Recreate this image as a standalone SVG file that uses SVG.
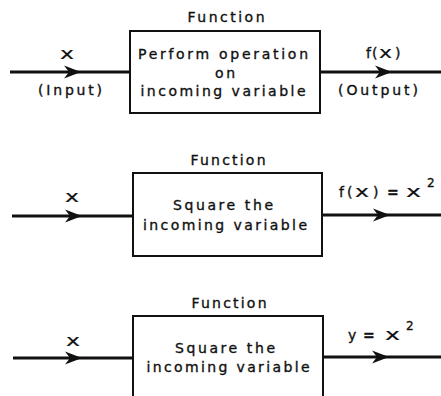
<svg xmlns="http://www.w3.org/2000/svg" xmlns:xlink="http://www.w3.org/1999/xlink" width="441" height="396" viewBox="0 0 441 396">
<style>
.box{fill:#fff;stroke:#111;stroke-width:2}
.wire{stroke:#111;stroke-width:3;fill:none}
.ah{fill:#111}
text{font-family:"DejaVu Sans","Liberation Sans",sans-serif;font-size:14px;fill:#111;stroke:#111;stroke-width:0.35;text-anchor:middle}
.st{text-anchor:start}
.var{font-size:16px;stroke-width:0.2}
.vx{font-size:16px;stroke-width:0.2}
</style>
<defs>
<path id="arrow" class="ah" d="M0,0 L-17,-6.5 L-12,0 L-17,6.5 Z"/>
</defs>
<rect width="441" height="396" fill="#fff"/>
<g id="connectors">
<line class="wire" x1="10" y1="72" x2="130" y2="72"/>
<use xlink:href="#arrow" transform="translate(81,72)"/>
<line class="wire" x1="320" y1="72" x2="441" y2="72"/>
<use xlink:href="#arrow" transform="translate(392,72)"/>
<line class="wire" x1="12" y1="216" x2="133" y2="216"/>
<use xlink:href="#arrow" transform="translate(82,216)"/>
<line class="wire" x1="322" y1="215" x2="441" y2="215"/>
<use xlink:href="#arrow" transform="translate(390,215)"/>
<line class="wire" x1="13" y1="358" x2="133" y2="358"/>
<use xlink:href="#arrow" transform="translate(82,358)"/>
<line class="wire" x1="323" y1="357" x2="441" y2="357"/>
<use xlink:href="#arrow" transform="translate(389,357)"/>
</g>
<g id="node1">
<text x="226" y="22" textLength="77" lengthAdjust="spacing">Function</text>
<rect class="box" x="130" y="31" width="190" height="82"/>
<text x="223" y="59" textLength="170" lengthAdjust="spacing">Perform operation</text>
<text x="225" y="78" textLength="20" lengthAdjust="spacing">on</text>
<text x="223" y="96" textLength="165" lengthAdjust="spacing">incoming variable</text>
</g>
<g id="labels1">
<text class="var st" x="60" y="59" textLength="14" lengthAdjust="spacingAndGlyphs">x</text>
<text x="70" y="95" textLength="64" lengthAdjust="spacing">(Input)</text>
<text class="st" y="58"><tspan x="366">f</tspan><tspan x="372">(</tspan><tspan class="vx" x="379" textLength="13" lengthAdjust="spacingAndGlyphs">x</tspan><tspan x="395">)</tspan></text>
<text x="378" y="95" textLength="80" lengthAdjust="spacing">(Output)</text>
</g>
<g id="node2">
<text x="228" y="165" textLength="75" lengthAdjust="spacing">Function</text>
<rect class="box" x="133" y="173" width="189" height="83"/>
<text x="223" y="210" textLength="100" lengthAdjust="spacing">Square the</text>
<text x="225" y="230" textLength="164" lengthAdjust="spacing">incoming variable</text>
</g>
<g id="labels2">
<text class="var st" x="65" y="202" textLength="14" lengthAdjust="spacingAndGlyphs">x</text>
<text class="st" y="197"><tspan x="339">f</tspan><tspan x="347">(</tspan><tspan class="vx" x="355" textLength="14" lengthAdjust="spacingAndGlyphs">x</tspan><tspan x="373">)</tspan><tspan x="387" font-weight="bold">=</tspan><tspan class="vx" x="406" textLength="15" lengthAdjust="spacingAndGlyphs">x</tspan><tspan x="427" y="187" font-size="12">2</tspan></text>
</g>
<g id="node3">
<text x="229" y="308" textLength="75" lengthAdjust="spacing">Function</text>
<rect class="box" x="133" y="316" width="190" height="90"/>
<text x="225" y="353" textLength="100" lengthAdjust="spacing">Square the</text>
<text x="228" y="372" textLength="163" lengthAdjust="spacing">incoming variable</text>
</g>
<g id="labels3">
<text class="var st" x="66" y="346" textLength="14" lengthAdjust="spacingAndGlyphs">x</text>
<text class="st" y="340"><tspan x="348">y</tspan><tspan x="363" font-weight="bold">=</tspan><tspan class="vx" x="385" textLength="15" lengthAdjust="spacingAndGlyphs">x</tspan><tspan x="406" y="330" font-size="12">2</tspan></text>
</g>
</svg>
